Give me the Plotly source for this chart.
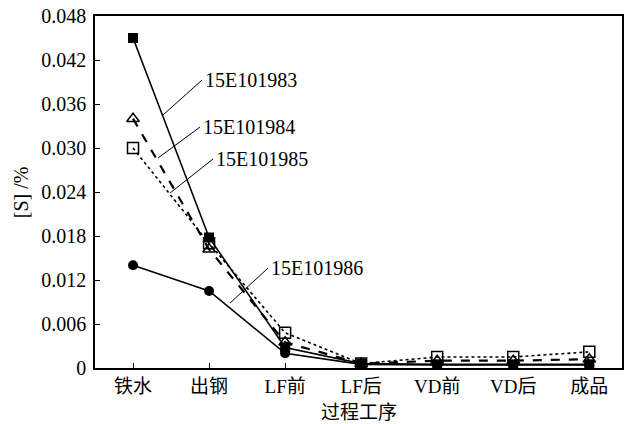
import plotly.graph_objects as go

categories = ["铁水", "出钢", "LF前", "LF后", "VD前", "VD后", "成品"]
s_983 = [0.0450, 0.0178, 0.0028, 0.0006, 0.0005, 0.0005, 0.0005]
s_984 = [0.0340, 0.0162, 0.0035, 0.0006, 0.0010, 0.0010, 0.0012]
s_985 = [0.0300, 0.0170, 0.0048, 0.0006, 0.0015, 0.0015, 0.0022]
s_986 = [0.0140, 0.0105, 0.0020, 0.0005, 0.0004, 0.0004, 0.0004]
names = ["15E101983", "15E101984", "15E101985", "15E101986"]
ytick_vals = [0, 0.006, 0.012, 0.018, 0.024, 0.030, 0.036, 0.042, 0.048]
ytick_text = ["0", "0.006", "0.012", "0.018", "0.024", "0.030", "0.036", "0.042", "0.048"]

FONT = "Liberation Serif, Times New Roman, Noto Sans CJK SC, serif"
xs = list(range(len(categories)))

fig = go.Figure()
styles = [
    (s_983, "solid", dict(symbol="square", size=10, color="black")),
    (s_984, "dash", dict(symbol="triangle-up-open", size=11, color="black", line=dict(width=1.5, color="black"))),
    (s_985, "dot", dict(symbol="square-open", size=11, color="black", line=dict(width=1.5, color="black"))),
    (s_986, "solid", dict(symbol="circle", size=10, color="black")),
]
for (vals, dash, mk), nm in zip(styles, names):
    fig.add_trace(go.Scatter(
        x=xs, y=vals, mode="lines+markers", name=nm,
        line=dict(color="black", width=1.6 if dash != "dash" else 2.2, dash=dash),
        marker=mk, showlegend=False,
    ))

def px_x(p):
    return (p - 133) / 76.0
def px_y(p):
    return (368 - p) / 7333.0

labels = [
    (names[0], (163, 115), (202, 80)),
    (names[1], (158, 158), (200, 127)),
    (names[2], (170, 193), (213, 159)),
    (names[3], (230, 303), (268, 268)),
]
for txt, p0, p1 in labels:
    fig.add_shape(type="line", xref="x", yref="y",
                  x0=px_x(p0[0]), y0=px_y(p0[1]), x1=px_x(p1[0]), y1=px_y(p1[1]),
                  line=dict(color="black", width=1))
    fig.add_annotation(x=px_x(p1[0] + 1), y=px_y(p1[1]), xref="x", yref="y",
                       text=txt, showarrow=False, xanchor="left", yanchor="middle",
                       font=dict(family=FONT, size=20, color="black"))

# axis titles
fig.add_annotation(x=0.5, y=-0.09, xref="paper", yref="paper", xanchor="center", yanchor="top",
                   text="过程工序", showarrow=False,
                   font=dict(family=FONT, size=19, color="black"))
fig.add_annotation(x=-0.140, y=0.50, xref="paper", yref="paper", xanchor="center", yanchor="middle",
                   textangle=-90, text="[S] /%", showarrow=False,
                   font=dict(family=FONT, size=20, color="black"))

fig.update_layout(
    width=635, height=424,
    margin=dict(l=95, r=13, t=16, b=56),
    paper_bgcolor="white", plot_bgcolor="white",
    font=dict(family=FONT, size=20, color="black"),
)
fig.update_xaxes(
    range=[-0.5, 6.43], tickmode="array", tickvals=xs, ticktext=categories,
    tickfont=dict(size=19),
    showgrid=False, zeroline=False, showline=True, linecolor="black", linewidth=1.5,
    mirror=True, ticks="inside", ticklen=5, tickcolor="black", automargin=False,
)
fig.update_yaxes(
    range=[0, 0.048], tickmode="array", tickvals=ytick_vals, ticktext=ytick_text,
    tickfont=dict(size=20), ticklabelstandoff=3,
    showgrid=False, zeroline=False, showline=True, linecolor="black", linewidth=1.5,
    mirror=True, ticks="inside", ticklen=5, tickcolor="black", automargin=False,
)

fig.write_html("out.html", config={"displayModeBar": False},
               post_script="document.body.style.margin='0';document.body.style.overflow='hidden';")
